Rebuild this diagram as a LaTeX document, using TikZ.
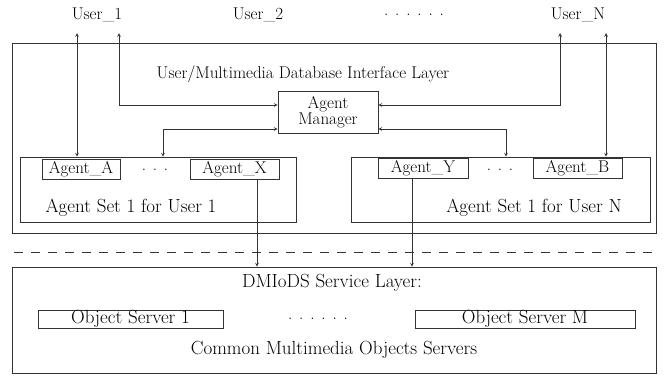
\documentclass[tikz,border=0pt]{standalone}
\usepackage{tikz}
\usetikzlibrary{arrows}

\begin{document}
\begin{tikzpicture}[x=1pt, y=-1pt, >=stealth, line width=0.7pt, draw=black!80, text=black,
	font=\fontsize{17}{19}\selectfont,
	box/.style={draw, rectangle, inner sep=0pt},
	lbl/.style={inner sep=0pt},
	biglbl/.style={inner sep=0pt, font=\fontsize{19}{21}\selectfont}]

		\useasboundingbox (0,0) rectangle (665,376);

		\node[lbl] (u1) at (97,15) {User\_1};
		\node[lbl] (u2) at (258,15) {User\_2};
		\node[lbl] (udots) at (414,15) {. . . . . .};
		\node[lbl] (uN) at (578,15) {User\_N};

		\node[box, minimum width=644, minimum height=190] (iface) at (334,138) {};
		\node[lbl] (ifacelbl) at (303,74) {User/Multimedia Database Interface Layer};

		\node[box, minimum width=100, minimum height=42, align=center] (mgr) at (328,112) {Agent\\[-3pt]Manager};

		\node[box, minimum width=276, minimum height=65] (set1) at (158,189.5) {};
		\node[box, minimum width=78, minimum height=20] (agA) at (81,169) {Agent\_A};
		\node[lbl] (dots1) at (155,170) {. . .};
		\node[box, minimum width=89, minimum height=20] (agX) at (234.5,169) {Agent\_X};
		\node[biglbl] (set1lbl) at (131,208) {Agent Set 1 for User 1};

		\node[box, minimum width=299, minimum height=65] (setN) at (500.5,189.5) {};
		\node[box, minimum width=90, minimum height=20] (agY) at (423,168.5) {Agent\_Y};
		\node[lbl] (dotsN) at (500,170) {. . .};
		\node[box, minimum width=89, minimum height=20] (agB) at (577.5,168.5) {Agent\_B};
		\node[biglbl] (setNlbl) at (534,208) {Agent Set 1 for User N};

		\node[box, minimum width=644, minimum height=106] (svc) at (334,320) {};
		\node[biglbl] (svclbl) at (332,283) {DMIoDS Service Layer:};
		\node[box, biglbl, draw, minimum width=185, minimum height=18] (os1) at (130.5,319) {Object Server 1};
		\node[lbl] (osdots) at (318,319) {. . . . . .};
		\node[box, biglbl, draw, minimum width=220, minimum height=18] (osM) at (525,319) {Object Server M};
		\node[biglbl] (svclbl2) at (334,350) {Common Multimedia Objects Servers};

		\coordinate (u1a) at (77,33);
		\coordinate (u1b) at (119,33);
		\coordinate (uNa) at (560,33);
		\coordinate (uNb) at (606,33);
		\coordinate (hi) at (0,105);
		\coordinate (lo) at (0,129);
		\coordinate (dx) at ([xshift=22.5pt]agX.south);
		\coordinate (dy) at ([xshift=-11pt]agY.south);
		\coordinate (sepL) at (14,252);
		\coordinate (sepR) at (655,252);

		\draw[<->] (u1a) -- (u1a |- set1.north);
		\draw[<->] (u1b) |- (mgr.west |- hi);
		\draw[<->] (uNa) |- (mgr.east |- hi);
		\draw[<->] (uNb) -- (uNb |- setN.north);
		\draw[<->] (mgr.west |- lo) -| ([xshift=5pt]set1.north);
		\draw[<->] (mgr.east |- lo) -| ([xshift=5.5pt]setN.north);
		\draw[->] (dx) -- (dx |- svc.north);
		\draw[->] (dy) -- (dy |- svc.north);
		\draw[dash pattern=on 9pt off 8pt] (sepL) -- (sepR);

\end{tikzpicture}
\end{document}
